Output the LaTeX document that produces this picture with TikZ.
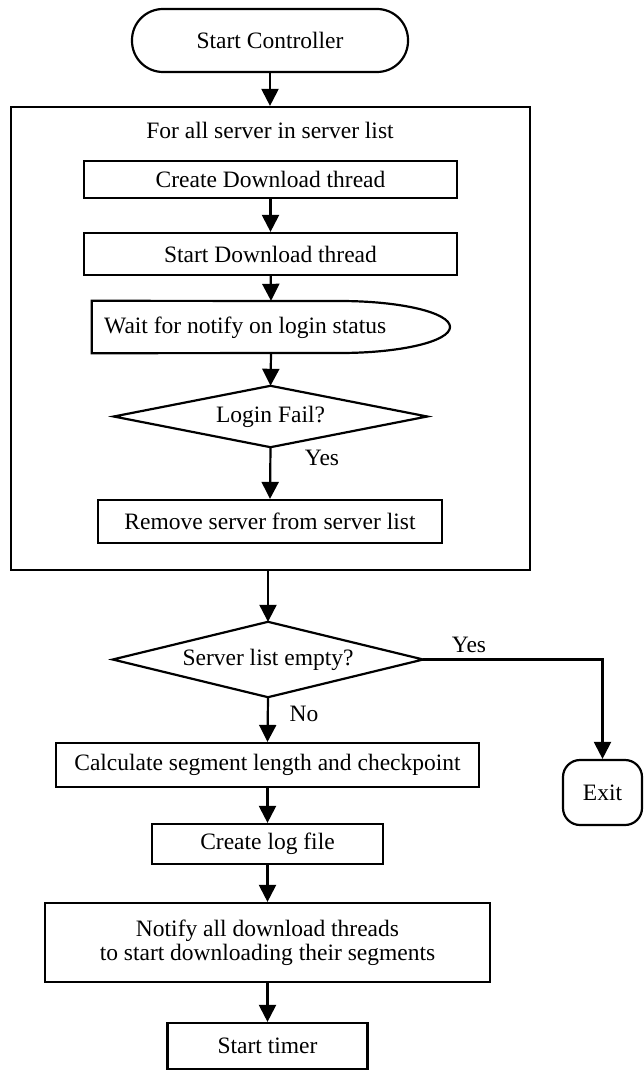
\documentclass[tikz,border=0pt]{standalone}
\usepackage{fontspec}
\setmainfont{Liberation Serif}
\usetikzlibrary{arrows.meta}
\begin{document}
\begin{tikzpicture}[x=1pt,y=-1pt,
  every node/.style={font=\fontsize{23.5}{24}\selectfont, inner sep=0pt},
  line/.style={line width=2.2pt},
  arr/.style={line width=2.2pt,-{Triangle[width=17pt,length=17pt]}},
  proc/.style={draw, line width=2.2pt, rectangle},
  term/.style={draw, line width=2.2pt, rectangle}]
\useasboundingbox (0,0) rectangle (644,1070);

% terminator
\node[term, rounded corners=31pt, minimum width=276pt, minimum height=63pt] (start) at (270,40.5) {Start Controller};

% loop over servers
\node[proc, minimum width=519pt, minimum height=463pt] (loop) at (270.5,338.5) {};
\node (looptitle) at (270,130) {For all server in server list};
\node[proc, minimum width=373pt, minimum height=37pt] (create) at (270.5,179.5) {Create Download thread};
\node[proc, minimum width=373pt, minimum height=42pt] (startdl) at (270.5,254) {Start Download thread};
\node[minimum width=358pt, minimum height=52pt] (wait) at (271,327) {};
\node[anchor=west] (waittext) at (104,328) {Wait for notify on login status};
\draw[line] (wait.north west) -- (340,301) arc[start angle=-90,end angle=90,x radius=110,y radius=26] -- (wait.south west) -- cycle;
\node[minimum width=313pt, minimum height=61pt] (login) at (270.5,416.5) {Login Fail?};
\draw[line] (login.north) -- (login.east) -- (login.south) -- (login.west) -- cycle;
\node (yes1) at (322,458) {Yes};
\node[proc, minimum width=344pt, minimum height=43pt] (remove) at (270,521.5) {Remove server from server list};

% after the loop
\node[minimum width=310pt, minimum height=75pt] (empty) at (268,659.5) {Server list empty?};
\draw[line] (empty.north) -- (empty.east) -- (empty.south) -- (empty.west) -- cycle;
\node (yes2) at (469,645) {Yes};
\node (no) at (304,714) {No};
\node[term, rounded corners=17pt, minimum width=79pt, minimum height=65pt] (exit) at (602.5,792.5) {Exit};
\node[proc, minimum width=423pt, minimum height=44pt] (calc) at (267.5,765) {Calculate segment length and checkpoint};
\node[proc, minimum width=231pt, minimum height=40pt] (log) at (267.5,844) {Create log file};
\node[proc, minimum width=445pt, minimum height=79pt, align=center] (notify) at (267.5,942.5) {Notify all download threads\\to start downloading their segments};
\node[proc, minimum width=200pt, minimum height=46pt] (timer) at (267.5,1046) {Start timer};

% connectors
\draw[arr] (start.south) -- (start.south |- loop.north);
\draw[arr] (create) -- (startdl);
\draw[arr] (startdl) -- (wait.north);
\draw[arr] (wait.south) -- (login.north);
\draw[arr] (login.south) -- (remove.north);
\draw[arr] (empty.north |- loop.south) -- (empty.north);
\draw[arr] (empty.east) -- (exit.north |- empty.east) -- (exit.north);
\draw[arr] (empty.south) -- (calc.north);
\draw[arr] (calc) -- (log);
\draw[arr] (log) -- (notify);
\draw[arr] (notify) -- (timer);
\end{tikzpicture}
\end{document}
